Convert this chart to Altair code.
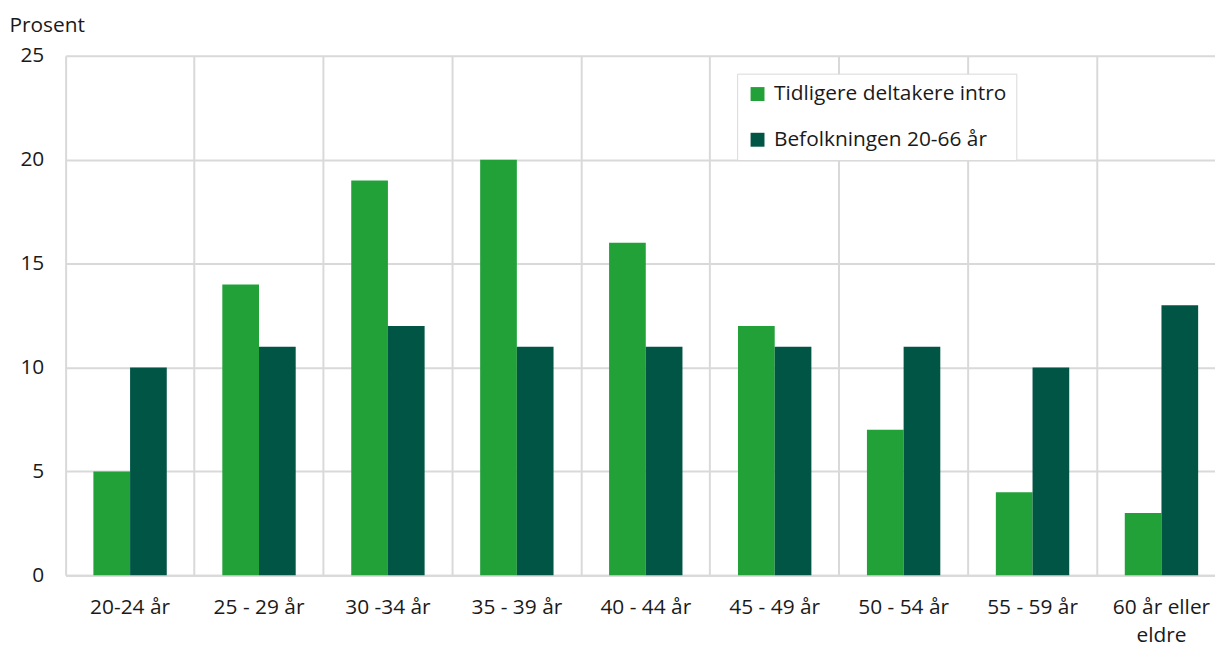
import altair as alt
import pandas as pd

categories = ["20-24 år", "25 - 29 år", "30 -34 år", "35 - 39 år", "40 - 44 år",
              "45 - 49 år", "50 - 54 år", "55 - 59 år", "60 år eller eldre"]
series = ["Tidligere deltakere intro", "Befolkningen 20-66 år"]
intro = [5, 14, 19, 20, 16, 12, 7, 4, 3]
befolkning = [10, 11, 12, 11, 11, 11, 11, 10, 13]
colors = ["#22a139", "#005545"]

rows = []
for c, a, b in zip(categories, intro, befolkning):
    rows.append({"kategori": c, "serie": series[0], "verdi": a})
    rows.append({"kategori": c, "serie": series[1], "verdi": b})
df = pd.DataFrame(rows)

FONT = "Open Sans"
TXT = "#1a1a1a"
GRID = "#d9d9d9"
FS = 21

chart = alt.Chart(df).mark_bar().encode(
    x=alt.X("kategori:N", sort=categories,
            scale=alt.Scale(paddingInner=0, paddingOuter=0),
            axis=alt.Axis(title=None, labelAngle=0, grid=True, bandPosition=0,
                          gridColor=GRID, gridWidth=2, domainColor=GRID, domainWidth=2,
                          ticks=False, labelPadding=21, labelFontSize=FS, labelFont=FONT,
                          labelColor=TXT, labelLineHeight=29, labelBaseline="top",
                          labelExpr="datum.label == '60 år eller eldre' ? ['60 år eller', 'eldre'] : datum.label")),
    xOffset=alt.XOffset("serie:N", sort=series,
                        scale=alt.Scale(paddingInner=0, paddingOuter=0.757)),
    y=alt.Y("verdi:Q", scale=alt.Scale(domain=[0, 25], nice=False),
            axis=alt.Axis(title="Prosent", titleAngle=0, titleAlign="left", titleBaseline="top",
                          titleX=-57, titleY=-41, titleFont=FONT, titleFontSize=FS,
                          titleFontWeight="normal", titleColor=TXT,
                          values=[0, 5, 10, 15, 20, 25], grid=True, gridColor=GRID, gridWidth=2,
                          domain=False, ticks=False, labelPadding=22, labelFontSize=FS,
                          labelFont=FONT, labelColor=TXT)),
    color=alt.Color("serie:N", sort=series,
                    scale=alt.Scale(domain=series, range=colors),
                    legend=alt.Legend(title=None, orient="none", legendX=676, legendY=18,
                                      direction="vertical", symbolType="square", symbolSize=196,
                                      symbolStrokeWidth=0, labelFont=FONT, labelFontSize=FS,
                                      labelColor=TXT, labelLimit=0, rowPadding=24, padding=10,
                                      strokeColor=GRID, fillColor="white", labelOffset=6,
                                      symbolOffset=0)),
).properties(
    width=1168, height=523,
    autosize=alt.AutoSizeParams(type="none"),
    padding={"left": 58, "top": 46, "right": -11, "bottom": 68},
).configure_view(stroke=None)

chart.save("out.html", embed_options={"renderer": "svg", "actions": False})
